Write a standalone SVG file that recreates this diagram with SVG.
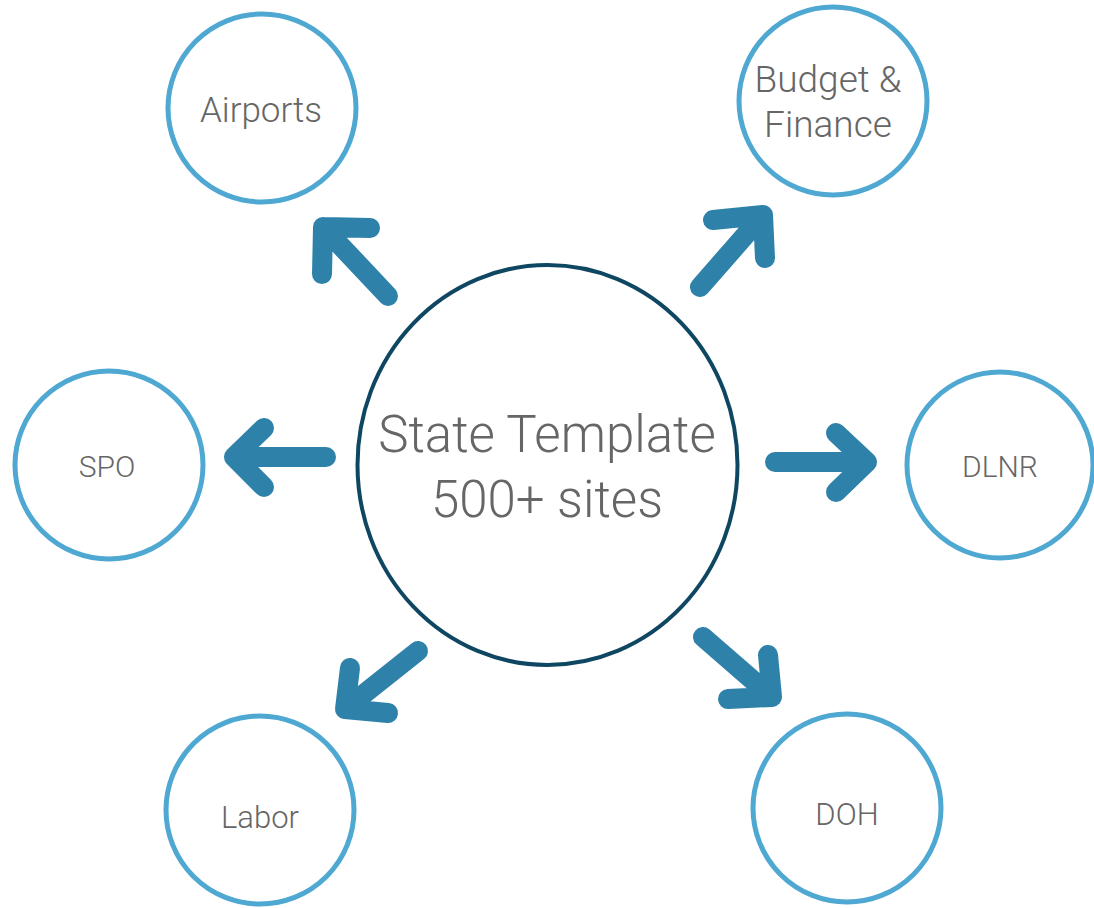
<svg xmlns="http://www.w3.org/2000/svg" width="1094" height="908" viewBox="0 0 1094 908">
<style>
.sat{fill:#fff;stroke:#4ea8d2;stroke-width:5}
.hub{fill:#fff;stroke:#0f4762;stroke-width:4}
.lbl{font-family:Roboto,"Liberation Sans",sans-serif;font-weight:300;fill:#666;text-anchor:middle}
.arr{fill:none;stroke:#2e82aa;stroke-width:20;stroke-linecap:round;stroke-linejoin:round}
</style>
<rect width="1094" height="908" fill="#fff"/>
<g id="connectors">
<path class="arr" d="M388 296 L323 227 M370 228 L323 227 L322 274"/>
<path class="arr" d="M700 287 L763 215 M713 220 L763 215 L765 258"/>
<path class="arr" d="M326 457 L234 457 M264 428 L234 457 L264 487"/>
<path class="arr" d="M775 462 L867 462 M836 433 L867 462 L836 492"/>
<path class="arr" d="M418 651 L345 709 M350 668 L345 709 L388 713"/>
<path class="arr" d="M703 637 L772 697 M768 655 L772 697 L728 699"/>
</g>
<g id="hub">
<ellipse class="hub" cx="547.5" cy="465" rx="190" ry="200"/>
<text class="lbl" x="547" y="452" font-size="51">State Template</text>
<text class="lbl" x="547" y="517" font-size="51">500+ sites</text>
</g>
<g id="airports">
<circle class="sat" cx="262" cy="108" r="94"/>
<text class="lbl" x="261" y="122" font-size="35">Airports</text>
</g>
<g id="budget">
<circle class="sat" cx="833" cy="101" r="94"/>
<text class="lbl" x="828" y="92" font-size="37">Budget &amp;</text>
<text class="lbl" x="828" y="137" font-size="37">Finance</text>
</g>
<g id="spo">
<circle class="sat" cx="109" cy="465" r="94"/>
<text class="lbl" x="107" y="477" font-size="30">SPO</text>
</g>
<g id="dlnr">
<circle class="sat" cx="1000" cy="465" r="93"/>
<text class="lbl" x="1000" y="477" font-size="30">DLNR</text>
</g>
<g id="labor">
<circle class="sat" cx="260" cy="810" r="94"/>
<text class="lbl" x="260" y="828" font-size="31">Labor</text>
</g>
<g id="doh">
<circle class="sat" cx="847" cy="808" r="94"/>
<text class="lbl" x="847" y="825" font-size="31">DOH</text>
</g>
</svg>
